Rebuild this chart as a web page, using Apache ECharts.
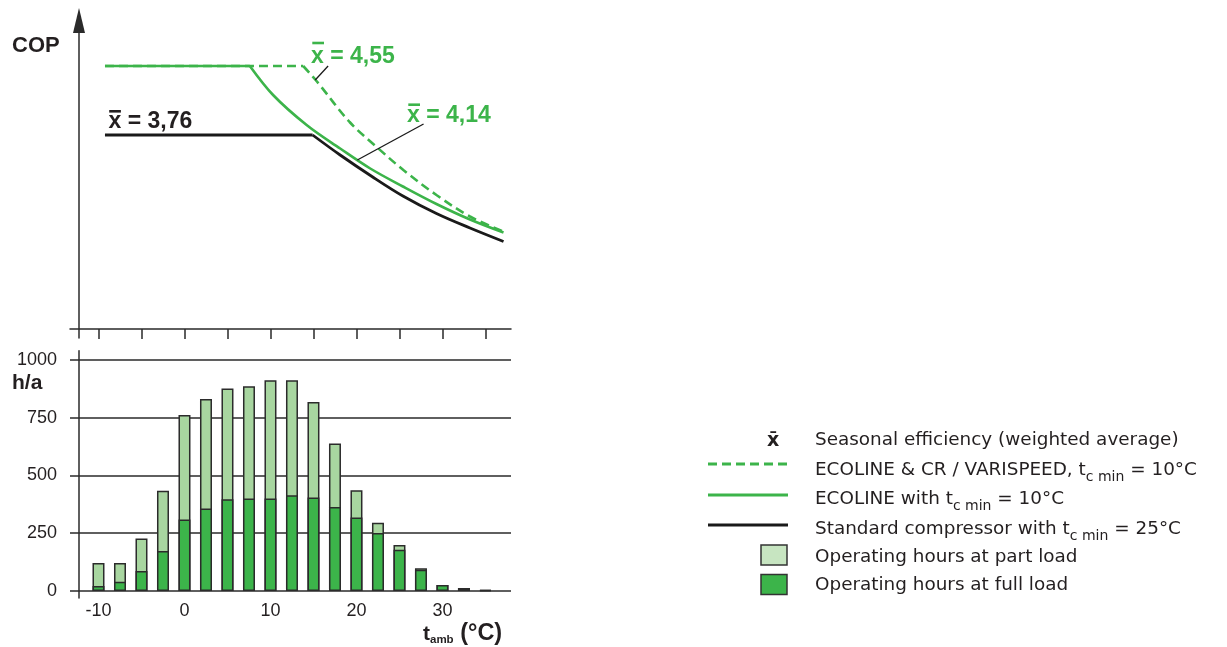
<!DOCTYPE html>
<html><head><meta charset="utf-8">
<script src="https://cdn.jsdelivr.net/npm/echarts@6/dist/echarts.min.js"></script>
<style>html,body{margin:0;padding:0;background:#fff}#c{width:1227px;height:647px}</style>
</head><body><div id="c"></div>
<script>
// ---- data ----
const temps = [-10,-7.5,-5,-2.5,0,2.5,5,7.5,10,12.5,15,17.5,20,22.5,25,27.5,30,32.5,35];
const hoursTotal    = [121,121,227,434,762,831,877,887,913,913,818,639,436,295,199,98,26,13,4];
const hoursFullLoad = [22,40,87,173,309,357,397,400,400,415,405,364,318,251,179,92,26,13,4];
const copEcolineVarispeed = [[-9.25,5.26],[13.8,5.26],[15.4,4.95],[19.2,4.14],[22.35,3.64],[25.45,3.18],[29.3,2.68],[33.2,2.25],[37.1,1.95]];
const copEcoline = [[-9.25,5.26],[7.6,5.26],[10.3,4.68],[14.2,4.08],[18.1,3.61],[21.6,3.21],[25.4,2.85],[29.3,2.50],[33.2,2.19],[37.1,1.93]];
const copStandard = [[-9.25,3.88],[14.9,3.88],[18.1,3.48],[21.8,3.05],[25.4,2.66],[29.3,2.31],[33.2,2.02],[37.1,1.75]];
const leader455 = [[16.7,5.26],[15.2,4.98]];
const leader414 = [[27.8,4.10],[20.1,3.38]];
const xTicksTop = [-10,-5,0,5,10,15,20,25,30,35];
const xLabelsBottom = [-10,0,10,20,30];
const yTicksBottom = [0,250,500,750,1000];

// ---- derived ----
const totalData = temps.map((t,i)=>[t,hoursTotal[i]]);
const fullData = temps.map((t,i)=>[t,hoursFullLoad[i]]);

const GREEN = '#3cb44a', LIGHT = '#a8d6a0', LIGHTBOX = '#c7e5c1', DARK = '#231f20', AXIS = '#2a2a2a', BLACK = '#1a1a1a';
const ARIAL = "'Liberation Sans', Arial, sans-serif";
const VERD = "'DejaVu Sans', Verdana, sans-serif";

const chart = echarts.init(document.getElementById('c'), null, {renderer:'canvas'});

function legendText(y, parts){
  return {type:'text', left: 815, top: y-7, style:{text: parts, rich:{
    a:{fontFamily:VERD,fontSize:18.4,fill:DARK,color:DARK},
    s:{fontFamily:VERD,fontSize:14,fill:DARK,color:DARK,padding:[14,0,0,0]}
  }, fill:DARK, font:'18.4px '+VERD}};
}
// plateau (straight) + falling part (smooth) of one curve
function copSeries(data, style, z){
  return [
    {type:'line', xAxisIndex:0, yAxisIndex:0, data:data.slice(0,2), symbol:'none', z:z, lineStyle:style},
    {type:'line', xAxisIndex:0, yAxisIndex:0, data:data.slice(1), symbol:'none', z:z, smooth:0.35, lineStyle:style}
  ];
}
function overbar(x, y, color){
  return {type:'rect', shape:{x:x, y:y, width:11.7, height:2.6}, style:{fill:color}};
}

const option = {
  animation:false,
  backgroundColor:'#fff',
  grid:[
    {left:70, width:441, top:20.5, bottom:309},
    {left:79, width:432, top:350.8, height:247.1}
  ],
  xAxis:[
    {type:'value', gridIndex:0, min:-13.317, max:37.97, offset:-9,
     axisLine:{show:true,onZero:false,lineStyle:{color:AXIS,width:1.5}},
     axisTick:{show:true,customValues:xTicksTop,length:10,lineStyle:{color:AXIS,width:1.5}},
     axisLabel:{show:false}, splitLine:{show:false}},
    {type:'value', gridIndex:1, min:-12.267, max:37.97,
     axisLine:{show:false}, axisTick:{show:false},
     axisLabel:{show:true,customValues:xLabelsBottom,margin:4,fontSize:18,fontFamily:ARIAL,color:DARK,formatter:v=>String(v)},
     splitLine:{show:false}}
  ],
  yAxis:[
    {type:'value', gridIndex:0, min:-0.18, max:6.17, offset:-9,
     axisLine:{show:true,onZero:false,symbol:['none','triangle'],symbolSize:[12,25],lineStyle:{color:AXIS,width:1.5}},
     axisTick:{show:false}, axisLabel:{show:false}, splitLine:{show:false}},
    {type:'value', gridIndex:1, min:-30, max:1040,
     axisLine:{show:true,onZero:false,lineStyle:{color:AXIS,width:1.5}},
     axisTick:{show:true,customValues:yTicksBottom,length:9,lineStyle:{color:AXIS,width:1.5}},
     axisLabel:{show:true,customValues:yTicksBottom,margin:22,fontSize:18,fontFamily:ARIAL,color:DARK,formatter:v=>String(v)},
     splitLine:{show:true,lineStyle:{color:AXIS,width:1.5}}}
  ],
  series:[
    ...copSeries(copEcolineVarispeed, {color:GREEN,width:2.6,type:[9,5]}, 3),
    ...copSeries(copEcoline, {color:GREEN,width:2.6}, 4),
    ...copSeries(copStandard, {color:BLACK,width:2.8}, 2),
    {type:'line', xAxisIndex:0, yAxisIndex:0, data:leader455, symbol:'none', z:5,
     lineStyle:{color:BLACK,width:1.3}},
    {type:'line', xAxisIndex:0, yAxisIndex:0, data:leader414, symbol:'none', z:5,
     lineStyle:{color:BLACK,width:1.3}},
    {type:'bar', xAxisIndex:1, yAxisIndex:1, data:totalData, barWidth:12, barGap:'-100%', z:3,
     itemStyle:{color:LIGHT,borderColor:'#2b2b2b',borderWidth:1.5}},
    {type:'bar', xAxisIndex:1, yAxisIndex:1, data:fullData, barWidth:12, barGap:'-100%', z:4,
     itemStyle:{color:GREEN,borderColor:'#2b2b2b',borderWidth:1.5}}
  ],
  graphic:[
    {type:'text', left:12, top:35, style:{text:'COP', font:'bold 22px '+ARIAL, fill:DARK}},
    {type:'text', left:12, top:373, style:{text:'h/a', font:'bold 21px '+ARIAL, fill:DARK}},
    {type:'text', left:423, top:622, style:{text:'{t|t}{s|amb}{c| (°C)}', rich:{
      t:{fontFamily:ARIAL,fontWeight:'bold',fontSize:21,fill:DARK,color:DARK},
      s:{fontFamily:ARIAL,fontWeight:'bold',fontSize:11.5,fill:DARK,color:DARK,padding:[12,0,0,0]},
      c:{fontFamily:ARIAL,fontWeight:'bold',fontSize:23.5,fill:DARK,color:DARK}}}},
    {type:'text', left:311, top:45, style:{text:'x = 4,55', font:'bold 23px '+ARIAL, fill:GREEN}},
    overbar(312.3, 41.7, GREEN),
    {type:'text', left:407, top:104, style:{text:'x = 4,14', font:'bold 23px '+ARIAL, fill:GREEN}},
    overbar(408.3, 103.4, GREEN),
    {type:'text', left:108.5, top:110, style:{text:'x = 3,76', font:'bold 23px '+ARIAL, fill:DARK}},
    overbar(109.2, 110, DARK),
    // legend
    {type:'text', left:767, top:432, style:{text:'x\u0304', font:'bold 19px '+VERD, fill:DARK}},
    {type:'line', shape:{x1:708,y1:464,x2:788,y2:464}, style:{stroke:GREEN,lineWidth:3,lineDash:[9,5]}},
    {type:'line', shape:{x1:708,y1:495,x2:788,y2:495}, style:{stroke:GREEN,lineWidth:3}},
    {type:'line', shape:{x1:708,y1:525,x2:788,y2:525}, style:{stroke:BLACK,lineWidth:3}},
    {type:'rect', shape:{x:761,y:545,width:26,height:20}, style:{fill:LIGHTBOX,stroke:'#333',lineWidth:1.5}},
    {type:'rect', shape:{x:761,y:574.5,width:26,height:20}, style:{fill:GREEN,stroke:'#333',lineWidth:1.5}},
    legendText(438,'{a|Seasonal efficiency (weighted average)}'),
    legendText(468,'{a|ECOLINE & CR / VARISPEED, t}{s|c min}{a| = 10°C}'),
    legendText(497,'{a|ECOLINE with t}{s|c min}{a| = 10°C}'),
    legendText(527,'{a|Standard compressor with t}{s|c min}{a| = 25°C}'),
    legendText(555,'{a|Operating hours at part load}'),
    legendText(583,'{a|Operating hours at full load}')
  ]
};
chart.setOption(option);
</script>
</body></html>
